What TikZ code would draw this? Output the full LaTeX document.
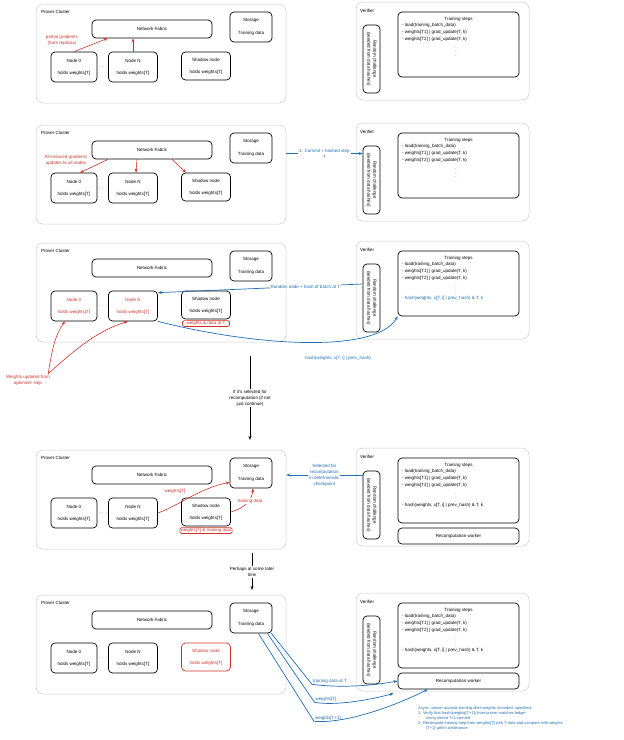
\documentclass[tikz,border=0pt]{standalone}
\usepackage{fontspec}
\setmainfont{Liberation Sans}
\usepackage{tikz}
\usetikzlibrary{arrows.meta, positioning, calc}

\definecolor{arrred}{HTML}{CC3329}
\definecolor{arrblue}{HTML}{1E6DB5}

\begin{document}
\begin{tikzpicture}[x=1pt, y=-1pt,
    panel/.style={rectangle, draw=black!20, rounded corners=7pt, line width=0.5pt},
    box/.style={rectangle, draw=black, rounded corners=4pt, line width=0.7pt, align=center, inner sep=1pt, font=\fontsize{4.5}{6}\selectfont},
    nodebox/.style={box, minimum width=46pt, minimum height=30pt},
    lbl/.style={align=center, inner sep=1pt, font=\fontsize{4.5}{6}\selectfont},
    snap/.style={lbl, draw=arrred, text=arrred, rounded corners=1.5pt, inner sep=0.8pt, minimum width=47pt, line width=0.6pt},
    redarr/.style={-{Stealth[length=4pt]}, draw=arrred, line width=0.6pt},
    bluearr/.style={-{Stealth[length=4pt]}, draw=arrblue, line width=0.7pt},
    flow/.style={-{Stealth[open, length=4pt]}, line width=0.6pt}
]
\useasboundingbox (0,0) rectangle (624,740);

% the five stages: prover cluster on the left, verifier on the right
\foreach \r/\y/\ca/\cs in {1/4/black/black, 2/125/black/black, 3/243/arrred/black, 4/450/black/black, 5/595/black/arrred} {
  \node[panel, minimum width=250pt, minimum height=99pt] (prov\r) at (161,\y+49.5) {};
  \node[lbl, anchor=west] (provname\r) at (40,\y+8) {Prover Cluster};
  \node[box, minimum width=120pt, minimum height=18pt] (fab\r) at (152,\y+25) {Network Fabric};
  \node[box, minimum width=42pt, minimum height=30pt] (stor\r) at (251,\y+23) {Storage\\[7pt]Training data};
  \node[nodebox, text=\ca] (node0\r) at (74,\y+63) {Node 0\\[6pt]holds weights[T]};
  \node[lbl] (dots\r) at (103,\y+63) {$\cdots$};
  \node[nodebox, text=\ca, minimum width=49pt] (nodeN\r) at (133,\y+63) {Node N\\[6pt]holds weights[T]};
  \node[nodebox, draw=\cs, text=\cs, minimum width=49pt, minimum height=28pt] (shadow\r) at (206,\y+62) {Shadow node\\[6pt]holds weights[T]};
  \node[panel, minimum width=173pt, minimum height=98pt] (ver\r) at (442.5,\y+47) {};
  \node[lbl, anchor=west] (vername\r) at (359,\y+7) {Verifier};
  \node[box, rotate=-90, minimum width=68pt, minimum height=17pt] (log\r) at (371.5,\y+55) {Random challenge\\(seeded from data hashes)};
  \node[box, minimum width=121pt, minimum height=65pt] (steps\r) at (458.5,\y+40.5) {};
  \node[lbl] (title\r) at (458.5,\y+15) {Training steps};
  \node[lbl, anchor=north west, align=left, font=\fontsize{4.5}{7.2}\selectfont] (code\r) at (401,\y+18)
    {- load(training\_batch\_data)\\- weights[T1] | grad\_update(T, k)\\- weights[T2] | grad\_update(T, k)};
  \node[lbl] (vdots\r) at (456,\y+45) {$\vdots$};
}

% stage 1
\node[lbl, text=arrred] (gradlbl) at (62,40) {partial gradients\\(from replicas)};
\draw[redarr] (node01.north) -- ([xshift=16pt]fab1.south west);
\draw[redarr] (nodeN1.north) -- (nodeN1.north |- fab1.south);

% stage 2
\node[lbl, text=arrred] (redlbl) at (66,160) {All-reduced gradients\\updates to all nodes};
\draw[redarr] ([xshift=-44pt]fab2.south) -- ([xshift=6pt]node02.north);
\draw[redarr] ([xshift=-15pt]fab2.south) -- ([xshift=3pt]nodeN2.north);
\draw[redarr] ([xshift=20pt]fab2.south) -- ([xshift=-20pt]shadow2.north);
\coordinate (cm2) at ([yshift=21pt]prov2.east);
\draw[bluearr] (cm2) -- node[lbl, fill=white, text=arrblue] (cmlbl) {1. Commit + hashed step\\T} (cm2 -| log2.south);

% stage 3
\node[lbl, anchor=west, text=arrblue] (hashline3) at (401,298) {- hash(weights, x[T, i] | prev\_hash) \& T, k};
\node[snap, below=1pt of shadow3] (snap3) {weights \& data at T};
\coordinate (rq3) at ([yshift=14pt]log3.south);
\draw[bluearr] (rq3) -- node[lbl, fill=white, text=arrblue, pos=0.28] (rqlbl) {Random node + hash of batch at T} ([yshift=-2pt]nodeN3.north east);
\draw[bluearr] (nodeN3.south east) .. controls (250,345) and (375,355) .. (steps3.south west);
\node[lbl, text=arrblue] (hashlbl) at (338,358) {hash(weights, x[T, i] | prev\_hash)};
\node[lbl, text=arrred] (wlbl) at (28,380) {Weights updated from\\optimizer step};
\draw[redarr] ([xshift=-3pt]wlbl.north east) .. controls (52,350) and (55,335) .. ([xshift=-9pt]node03.south);
\draw[redarr] ([xshift=-3pt]wlbl.north east) .. controls (80,345) and (100,330) .. ([xshift=-5pt]nodeN3.south);

% selection step
\coordinate (seltop) at (250,356);
\coordinate (selbot) at (250,440);
\node[lbl, fill=white] (sel) at (250,398) {If it's selected for\\recomputation (if not\\just continue)};
\draw[line width=0.6pt] (seltop) -- (sel);
\draw[flow] (sel) -- (selbot);

% stage 4
\node[lbl, anchor=west] (hashline4) at (401,505) {- hash(weights, x[T, i] | prev\_hash) \& T, k};
\node[box, minimum width=121pt, minimum height=16pt] (recomp4) at (458.5,536) {Recomputation worker};
\node[snap, below=1pt of shadow4] (snap4) {weights[T] \& training data};
\draw[redarr] (nodeN4.east) .. controls (178,506) and (200,488) .. ([yshift=6pt]stor4.south west);
\node[lbl, text=arrred] (wtlbl) at (175,491) {weights[T]};
\draw[redarr] (shadow4.east) .. controls (245,508) and (252,500) .. ([xshift=2pt]stor4.south);
\node[lbl, text=arrred, fill=white] (tdlbl4) at (250,501) {training data};
\coordinate (sel4) at ([yshift=30pt]log4.south);
\draw[bluearr] (sel4) -- node[lbl, fill=white, text=arrblue] (sellbl) {Selected for\\recomputation\\in deterministic\\checkpoint} (sel4 -| prov4.east);

% later step
\coordinate (latertop) at (252,553);
\coordinate (laterbot) at (252,590);
\node[lbl, fill=white] (later) at (252,572) {Perhaps at some later\\time};
\draw[line width=0.6pt] (latertop) -- (later);
\draw[flow] (later) -- (laterbot);

% stage 5
\node[lbl, anchor=west] (hashline5) at (401,650) {- hash(weights, x[T, i] | prev\_hash) \& T, k};
\node[box, minimum width=121pt, minimum height=16pt] (recomp5) at (458.5,681) {Recomputation worker};
\node[lbl, text=arrblue] (tdlbl5) at (330,681) {training data at T};
\node[lbl, text=arrblue] (wlbl5) at (326,699) {weights[T]};
\node[lbl, text=arrblue] (w1lbl5) at (328,718) {weights[T+1]};
\draw[bluearr] ([xshift=-1pt]stor5.south east) -- (tdlbl5.south west) .. controls (340,688) and (370,686) .. (recomp5.west);
\draw[bluearr] ([xshift=-5pt]stor5.south east) -- (wlbl5.south west) .. controls (335,706) and (370,700) .. ([xshift=-4pt, yshift=-4pt]recomp5.south west);
\draw[bluearr] ([xshift=-14pt]stor5.south east) -- (w1lbl5.south west) .. controls (345,724) and (395,706) .. ([xshift=30pt]recomp5.south west);
\node[lbl, anchor=north west, align=left, text=arrblue, font=\fontsize{4}{5.2}\selectfont] (note) at (417,705)
  {Async: prover accepts training after weights recorded, specified:\\
   1. Verify that hash(weights[T+1]) from prover matches ledger\\
   \quad\quad using stored T+1 commit.\\
   2. Recompute training step from weights[T] with T data and compare with weights\\
   \quad\quad [T+1] within a tolerance.};
\end{tikzpicture}
\end{document}
